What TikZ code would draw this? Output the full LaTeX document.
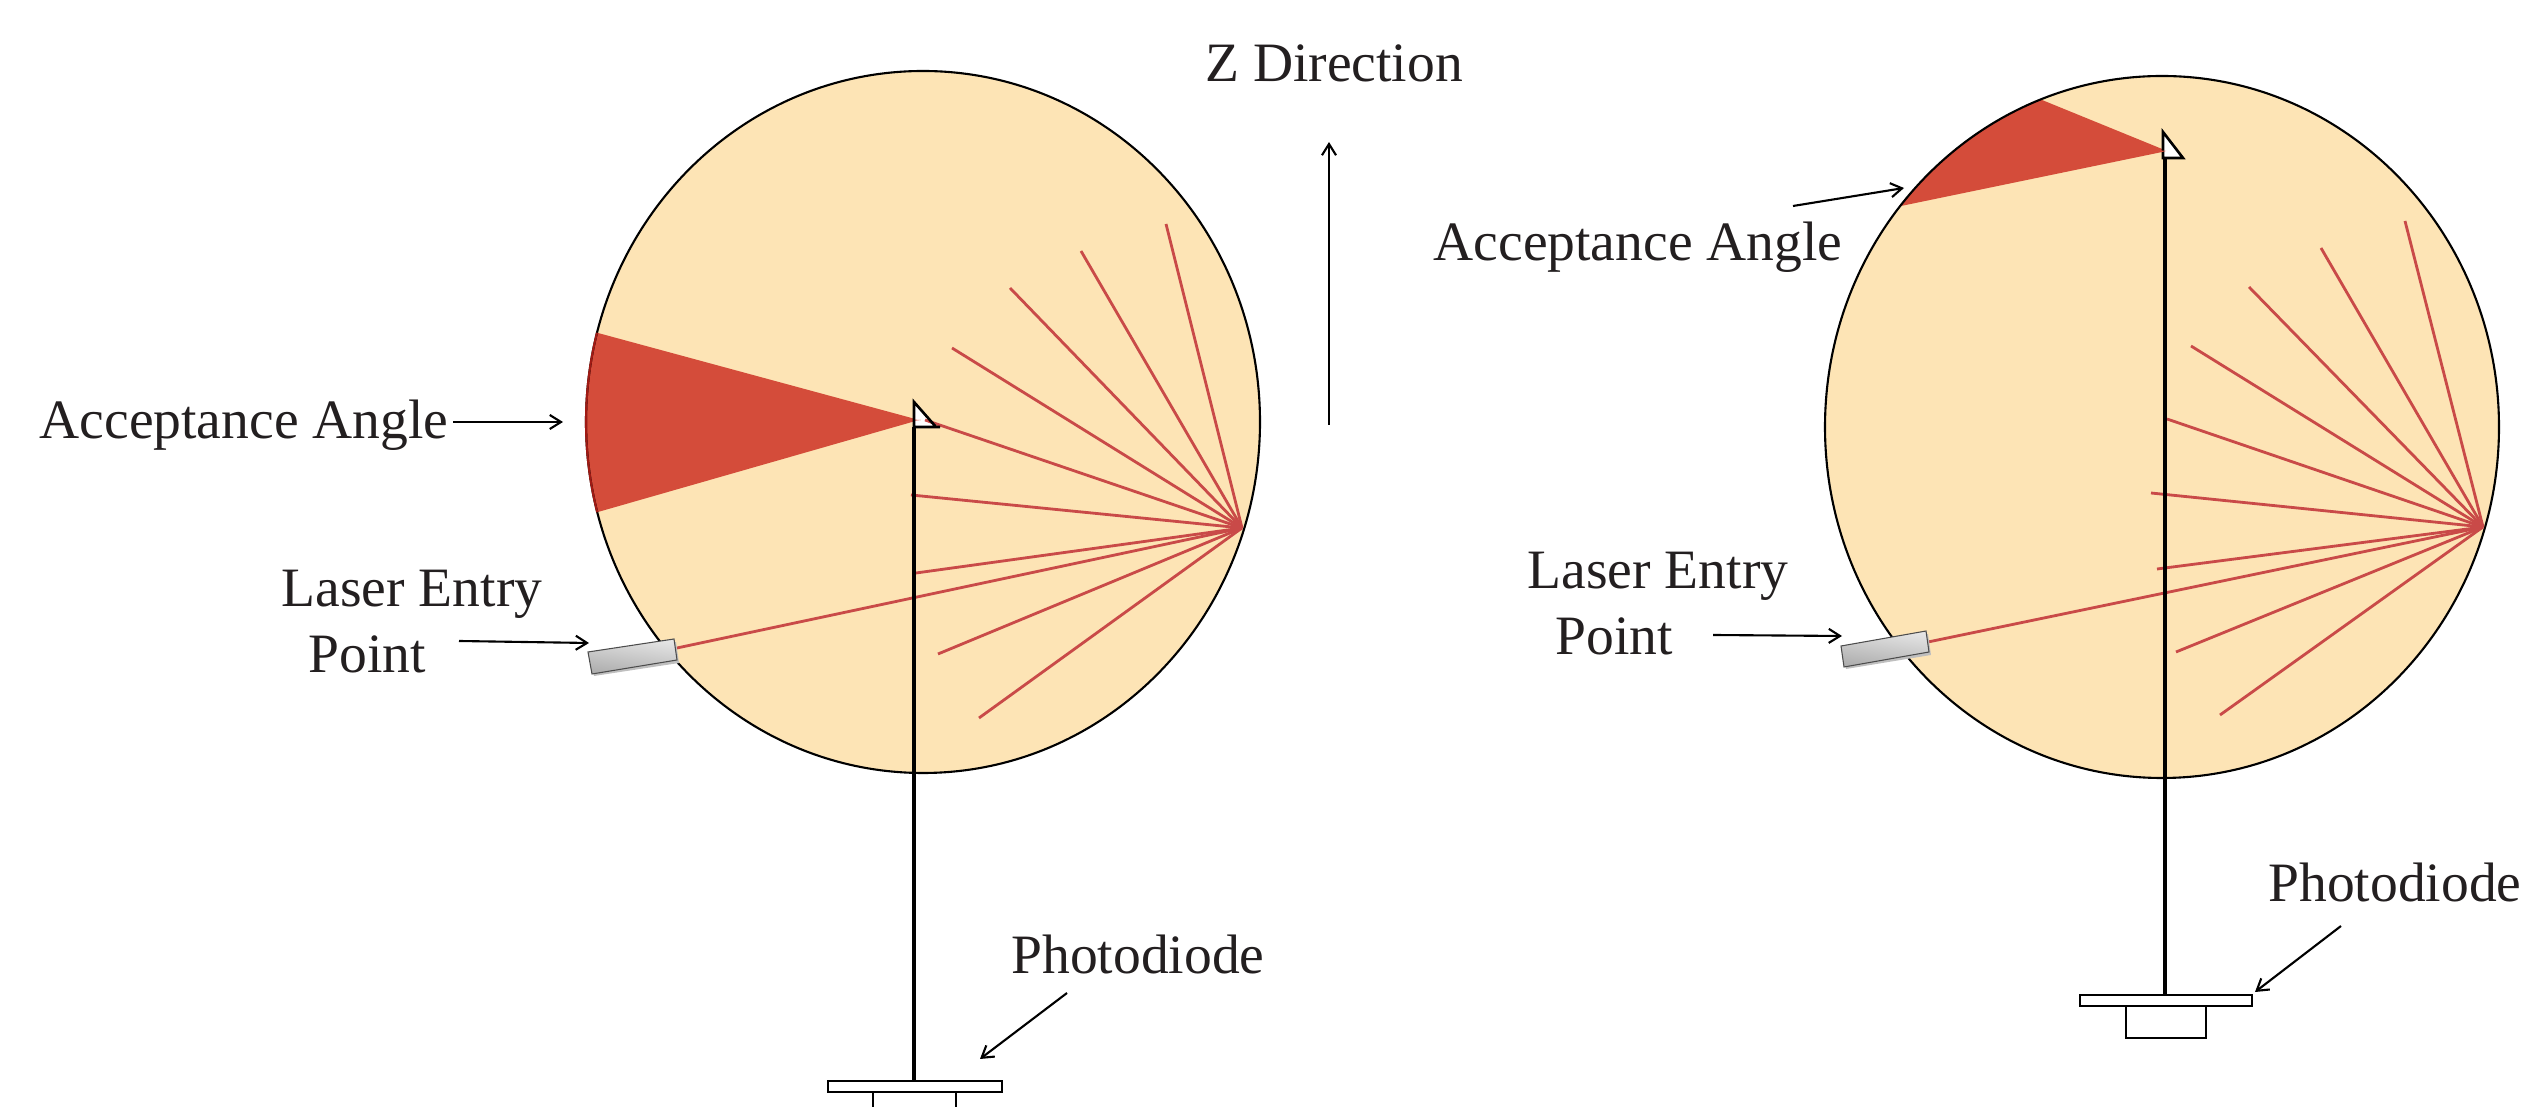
\documentclass[tikz,border=0pt]{standalone}
\usepackage{fontspec}
\setmainfont{Liberation Serif}
\usetikzlibrary{arrows.meta}
\definecolor{sphere}{HTML}{FDE4B5}
\definecolor{wedge}{HTML}{D44C3A}
\definecolor{wedgeedge}{HTML}{A01A14}
\definecolor{rayc}{HTML}{C94A48}
\definecolor{inkc}{HTML}{231F20}
\tikzset{
  label text/.style={font=\fontsize{15.8pt}{19pt}\selectfont,text=inkc,inner sep=0pt,anchor=base},
  sphere disc/.style={fill=sphere,draw=black,line width=0.6pt},
  wedge fill/.style={fill=wedge,draw=none},
  ray/.style={draw=rayc,line width=0.8pt},
  pole/.style={draw=black,line width=0.95pt},
  part/.style={draw=black,fill=white,line width=0.75pt},
  pointer/.style={draw=black,line width=0.6pt,-{Straight Barb[length=3.2pt,width=4pt]}},
  laser/.style={draw=black!70,line width=0.3pt,top color=white!90!black,bottom color=black!32,shading angle=-8},
  laser shadow/.style={fill=black!25,draw=none}
}
\begin{document}
\begin{tikzpicture}[x=0.01cm,y=-0.01cm]
\useasboundingbox (0,0) rectangle (2526,1107);
\clip (0,0) rectangle (2526,1107);

% ---------- left sphere ----------
\coordinate (Lc) at (923,422);
\fill[sphere] (Lc) ellipse [x radius=337,y radius=351];
\begin{scope}
  \clip (Lc) ellipse [x radius=337,y radius=351];
  \fill[wedge fill] (919,420) -- (598,333) -- (400,279) -- (400,566) -- (598,512) -- cycle;
\end{scope}
\draw[sphere disc,fill=none] (Lc) ellipse [x radius=337,y radius=351];
\begin{scope}
  \clip (919,420) -- (598,333) -- (400,279) -- (400,566) -- (598,512) -- cycle;
  \draw[draw=wedgeedge,line width=0.6pt] (Lc) ellipse [x radius=337,y radius=351];
\end{scope}

\coordinate (Lf) at (1242,528);
\coordinate (La) at (1166,224);
\coordinate (Lb) at (1081,251);
\coordinate (Lc1) at (1010,288);
\coordinate (Ld) at (952,348);
\coordinate (Le) at (925,420);
\coordinate (Lg) at (911,495);
\coordinate (Lh) at (916,573);
\coordinate (Li) at (938,654);
\coordinate (Lj) at (979,718);
\coordinate (Lk) at (677,648);
\draw[ray] (Lf) -- (La);
\draw[ray] (Lf) -- (Lb);
\draw[ray] (Lf) -- (Lc1);
\draw[ray] (Lf) -- (Ld);
\draw[ray] (Lf) -- (Lg);
\draw[ray] (Lf) -- (Lh);
\draw[ray] (Lf) -- (Li);
\draw[ray] (Lf) -- (Lj);
\draw[ray] (Lf) -- (Lk);

\coordinate (Lt) at (914,402);
\coordinate (Lr) at (940,427);
\coordinate (Lq) at (914,427);
\coordinate (Lp) at (914,1081);
\draw[pole] (Lq) -- (Lp);
\fill[white] (Lt) -- (Lq) -- (936,427) -- cycle;
\fill[wedge] (912,419.5) -- (921,420) -- (912,421) -- cycle;
\draw[ray] (Lf) -- (Le);
\draw[draw=black,line width=0.75pt] (Lr) -- (Lq) -- (Lt) -- (936,427);
\draw[part] (828,1081) rectangle (1002,1092);
\draw[part] (873,1092) rectangle (956,1130);

\fill[laser shadow] (590,655) -- (676,642) -- (679,663) -- (594,676) -- cycle;
\shade[laser] (588,652) -- (674,639) -- (677,660) -- (592,674) -- cycle;

% ---------- right sphere ----------
\coordinate (Rc) at (2162,427);
\fill[sphere] (Rc) ellipse [x radius=337,y radius=351];
\begin{scope}
  \clip (Rc) ellipse [x radius=337,y radius=351];
  \fill[wedge fill] (2167,151) -- (2042,100) -- (1960,66) -- (1850,120) -- (1850,217) -- (1901,206) -- cycle;
\end{scope}
\draw[sphere disc,fill=none] (Rc) ellipse [x radius=337,y radius=351];

\coordinate (Rf) at (2483,527);
\coordinate (Ra) at (2405,221);
\coordinate (Rb) at (2321,248);
\coordinate (Rc1) at (2249,287);
\coordinate (Rd) at (2191,346);
\coordinate (Re) at (2167,419);
\coordinate (Rg) at (2151,493);
\coordinate (Rh) at (2157,569);
\coordinate (Ri) at (2176,652);
\coordinate (Rj) at (2220,715);
\coordinate (Rk) at (1928,642);
\draw[ray] (Rf) -- (Ra);
\draw[ray] (Rf) -- (Rb);
\draw[ray] (Rf) -- (Rc1);
\draw[ray] (Rf) -- (Rd);
\draw[ray] (Rf) -- (Re);
\draw[ray] (Rf) -- (Rg);
\draw[ray] (Rf) -- (Rh);
\draw[ray] (Rf) -- (Ri);
\draw[ray] (Rf) -- (Rj);
\draw[ray] (Rf) -- (Rk);

\coordinate (Rt) at (2163,132);
\coordinate (Rr) at (2183,158);
\coordinate (Rq) at (2163,158);
\coordinate (Rm) at (2165,158);
\coordinate (Rp) at (2165,995);
\draw[pole] (Rm) -- (Rp);
\draw[part] (Rt) -- (Rq) -- (Rr) -- cycle;
\fill[wedge] (2161,150.4) -- (2166,151) -- (2161,152.2) -- cycle;
\draw[part] (2080,995) rectangle (2252,1006);
\draw[part] (2126,1006) rectangle (2206,1038);

\fill[laser shadow] (1843,649) -- (1928,634) -- (1931,655) -- (1846,669) -- cycle;
\shade[laser] (1841,646) -- (1926,631) -- (1929,652) -- (1844,667) -- cycle;

% ---------- z direction ----------
\coordinate (Zs) at (1329,425);
\coordinate (Ze) at (1329,142);
\draw[pointer] (Zs) -- (Ze);

% ---------- labels ----------
\node[label text] (zlabel) at (1334,82) {Z Direction};
\node[label text] (lacc) at (244,439) {Acceptance Angle};
\node[label text] (llas1) at (412,607) {Laser Entry};
\node[label text] (llas2) at (367,673) {Point};
\node[label text] (lpho) at (1138,974) {Photodiode};
\node[label text] (racc) at (1638,261) {Acceptance Angle};
\node[label text] (rlas1) at (1658,589) {Laser Entry};
\node[label text] (rlas2) at (1614,655) {Point};
\node[label text] (rpho) at (2395,902) {Photodiode};

% ---------- pointers ----------
\coordinate (a1) at (453,422); \coordinate (a2) at (563,422);
\coordinate (b1) at (459,641); \coordinate (b2) at (589,643);
\coordinate (c1) at (1067,993); \coordinate (c2) at (980,1059);
\coordinate (d1) at (1793,206); \coordinate (d2) at (1904,188);
\coordinate (e1) at (1713,635); \coordinate (e2) at (1842,636);
\coordinate (f1) at (2341,926); \coordinate (f2) at (2255,992);
\draw[pointer] (a1) -- (a2);
\draw[pointer] (b1) -- (b2);
\draw[pointer] (c1) -- (c2);
\draw[pointer] (d1) -- (d2);
\draw[pointer] (e1) -- (e2);
\draw[pointer] (f1) -- (f2);
\end{tikzpicture}
\end{document}
